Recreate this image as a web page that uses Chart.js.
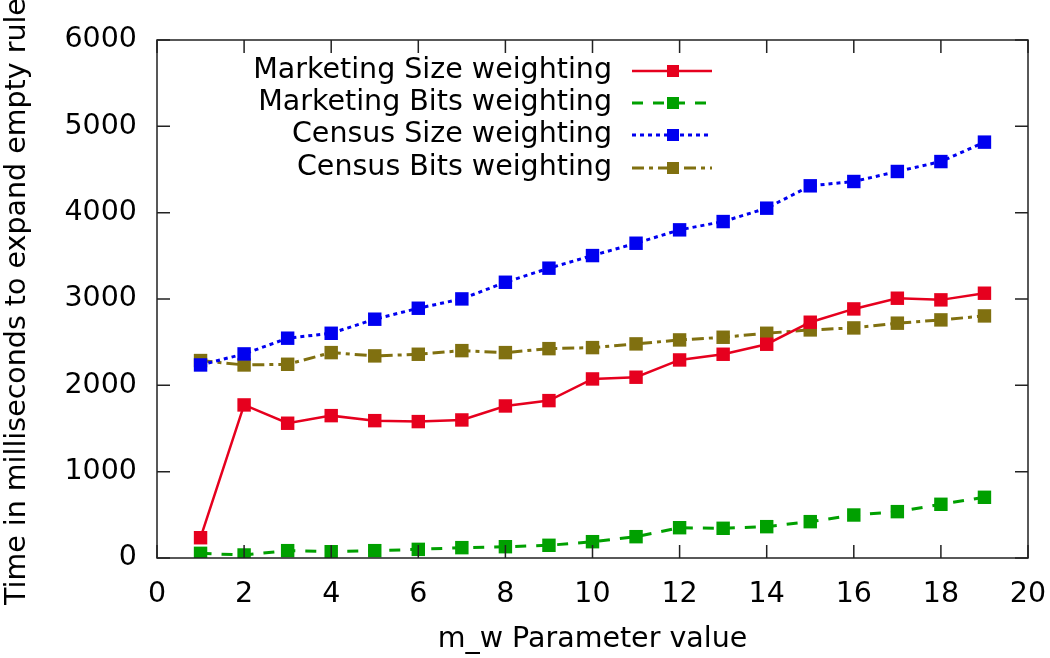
<!DOCTYPE html>
<html>
<head>
<meta charset="utf-8">
<script src="https://cdn.jsdelivr.net/npm/chart.js@4.4.1/dist/chart.umd.min.js"></script>
<style>
  html, body { margin: 0; padding: 0; background: #fff; }
  #wrap { width: 1050px; height: 658px; position: relative; }
</style>
</head>
<body>
<div id="wrap"><canvas id="timeChart"></canvas></div>
<script>
// values
const mwValues = [1, 2, 3, 4, 5, 6, 7, 8, 9, 10, 11, 12, 13, 14, 15, 16, 17, 18, 19];
const marketingSize = [235, 1773, 1561, 1649, 1591, 1580, 1599, 1761, 1823, 2074, 2094, 2294, 2360, 2476, 2731, 2885, 3009, 2990, 3067];
const marketingBits = [54, 35, 85, 73, 85, 100, 120, 131, 147, 189, 247, 351, 344, 363, 421, 498, 537, 622, 703];
const censusSize = [2236, 2364, 2546, 2603, 2766, 2893, 3001, 3194, 3357, 3503, 3646, 3801, 3897, 4052, 4311, 4361, 4477, 4592, 4817];
const censusBits = [2287, 2236, 2244, 2379, 2341, 2360, 2402, 2379, 2425, 2437, 2480, 2526, 2557, 2603, 2642, 2665, 2720, 2758, 2804];
const seriesNames = ['Marketing Size weighting', 'Marketing Bits weighting', 'Census Size weighting', 'Census Bits weighting'];
const yTitle = 'Time in milliseconds to expand empty rules';
const xTitle = 'm_w Parameter value';

const FONT = 'DejaVu Sans, sans-serif';
const FSIZE = 28.5;
const RED = 'rgb(230,0,30)';
const GREEN = 'rgb(0,160,0)';
const BLUE = 'rgb(0,0,240)';
const OLIVE = 'rgb(128,112,16)';

function toPoints(ys) {
    return ys.map((y, i) => ({ x: mwValues[i], y: y }));
}

const styles = [
    { color: RED, dash: [], width: 2.5 },
    { color: GREEN, dash: [11, 10], width: 3 },
    { color: BLUE, dash: [4, 4], width: 3 },
    { color: OLIVE, dash: [12, 5, 4, 5], width: 3 }
];
const allSeries = [marketingSize, marketingBits, censusSize, censusBits];

const datasets = allSeries.map((ys, i) => ({
    label: seriesNames[i],
    data: toPoints(ys),
    borderColor: styles[i].color,
    backgroundColor: styles[i].color,
    borderWidth: styles[i].width,
    borderDash: styles[i].dash,
    pointStyle: 'rect',
    pointRadius: 9.5,
    pointBorderWidth: 0,
    pointBackgroundColor: styles[i].color,
    tension: 0,
    fill: false
}));

// gnuplot style frame with inward ticks on all four sides
const framePlugin = {
    id: 'frame',
    afterDatasetsDraw(chart) {
        const { ctx, chartArea: a, scales } = chart;
        ctx.save();
        ctx.strokeStyle = '#222';
        ctx.lineWidth = 1.5;
        ctx.strokeRect(a.left, a.top, a.right - a.left, a.bottom - a.top);
        const len = 13;
        ctx.beginPath();
        scales.x.ticks.forEach(t => {
            const px = scales.x.getPixelForValue(t.value);
            ctx.moveTo(px, a.bottom); ctx.lineTo(px, a.bottom - len);
            ctx.moveTo(px, a.top); ctx.lineTo(px, a.top + len);
        });
        scales.y.ticks.forEach(t => {
            const py = scales.y.getPixelForValue(t.value);
            ctx.moveTo(a.left, py); ctx.lineTo(a.left + len, py);
            ctx.moveTo(a.right, py); ctx.lineTo(a.right - len, py);
        });
        ctx.stroke();
        ctx.restore();
    }
};

// key: right aligned text followed by the line sample, plus the y label
const keyPlugin = {
    id: 'key',
    afterDraw(chart) {
        const { ctx } = chart;
        const textRight = 612;
        const x0 = 632, x1 = 712, xm = 673;
        const rows = [71, 103, 135, 168];
        ctx.save();
        ctx.font = FSIZE + 'px ' + FONT;
        ctx.textAlign = 'right';
        ctx.textBaseline = 'middle';
        rows.forEach((y, i) => {
            ctx.fillStyle = '#000';
            ctx.fillText(seriesNames[i], textRight, y);
            ctx.strokeStyle = styles[i].color;
            ctx.lineWidth = styles[i].width;
            ctx.setLineDash(styles[i].dash);
            ctx.beginPath();
            ctx.moveTo(x0, y); ctx.lineTo(x1, y);
            ctx.stroke();
            ctx.setLineDash([]);
            ctx.fillStyle = styles[i].color;
            ctx.fillRect(xm - 6, y - 6, 12, 12);
        });

        // y axis label, anchored at its start like gnuplot's clipped one
        ctx.translate(25, 605);
        ctx.rotate(-Math.PI / 2);
        ctx.textAlign = 'left';
        ctx.textBaseline = 'alphabetic';
        ctx.fillStyle = '#000';
        ctx.fillText(yTitle, 0, 0);
        ctx.restore();
    }
};

document.addEventListener('DOMContentLoaded', () => {
    const ctx = document.getElementById('timeChart').getContext('2d');
    new Chart(ctx, {
        type: 'line',
        data: { datasets: datasets },
        options: {
            responsive: true,
            maintainAspectRatio: false,
            animation: false,
            layout: { padding: { top: 40, right: 22, left: 0, bottom: 0 } },
            plugins: {
                legend: { display: false },
                tooltip: { enabled: false }
            },
            scales: {
                x: {
                    type: 'linear',
                    min: 0,
                    max: 20,
                    afterFit: s => { s.height = 100; s.paddingRight = 0; s.paddingLeft = 0; },
                    grid: { display: false, drawTicks: false },
                    border: { display: false },
                    ticks: { stepSize: 2, color: '#000', padding: 19, font: { family: FONT, size: FSIZE },
                             callback: v => String(v) },
                    title: { display: true, text: xTitle, color: '#000', padding: { bottom: 1 }, font: { family: FONT, size: FSIZE } }
                },
                y: {
                    min: 0,
                    max: 6000,
                    afterFit: s => { s.width = 157; s.paddingTop = 0; s.paddingBottom = 0; },
                    grid: { display: false, drawTicks: false },
                    border: { display: false },
                    ticks: { stepSize: 1000, color: '#000', padding: 20, font: { family: FONT, size: FSIZE },
                             callback: v => String(v) },
                    title: { display: false }
                }
            }
        },
        plugins: [framePlugin, keyPlugin]
    });
});
</script>
</body>
</html>
